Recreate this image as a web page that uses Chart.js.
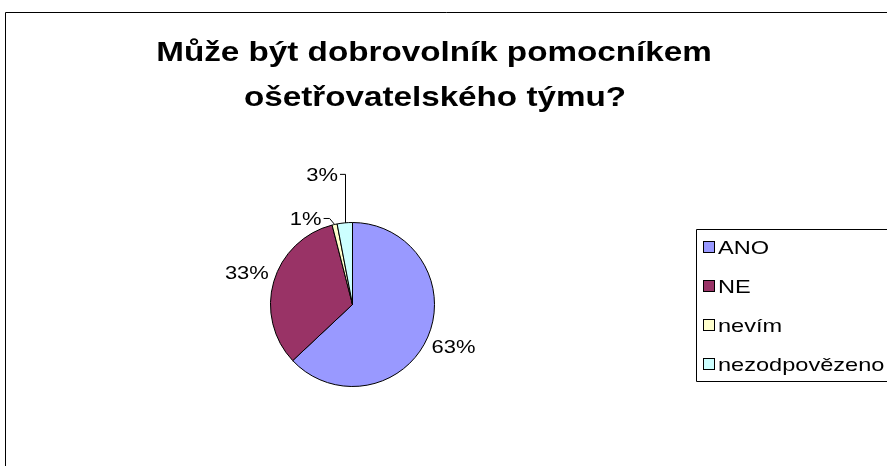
<!DOCTYPE html>
<html><head><meta charset="utf-8">
<script src="https://cdn.jsdelivr.net/npm/chart.js@4/dist/chart.umd.min.js"></script>
<style>html,body{margin:0;padding:0;background:#fff;}canvas{display:block;}</style>
</head><body>
<canvas id="c" width="887" height="466"></canvas>
<script>
const titleLines = ["Může být dobrovolník pomocníkem", "ošetřovatelského týmu?"];
const categories = ["ANO", "NE", "nevím", "nezodpovězeno"];
const values = [63, 33, 1, 3];
const valueLabels = ["63%", "33%", "1%", "3%"];
const colors = ["#9999FF", "#993366", "#FFFFCC", "#CCFFFF"];

const FONT = '"Liberation Sans", Arial, sans-serif';

function stretchedText(ctx, text, x, y, align, font, sx) {
  ctx.save();
  ctx.font = font;
  ctx.textBaseline = 'alphabetic';
  const w = ctx.measureText(text).width * sx;
  let left = x;
  if (align === 'center') left = x - w / 2;
  else if (align === 'right') left = x - w;
  ctx.translate(left, y);
  ctx.scale(sx, 1);
  ctx.textAlign = 'left';
  ctx.fillText(text, 0, 0);
  ctx.restore();
  return w;
}

const decor = {
  id: 'decor',
  beforeDraw(chart) {
    const ctx = chart.ctx;
    ctx.save();
    ctx.fillStyle = '#fff';
    ctx.fillRect(0, 0, chart.width, chart.height);
    ctx.strokeStyle = '#000';
    ctx.lineWidth = 1;
    ctx.beginPath();
    ctx.moveTo(5.5, chart.height);
    ctx.lineTo(5.5, 12.5);
    ctx.lineTo(chart.width, 12.5);
    ctx.stroke();
    ctx.restore();
  },
  afterDraw(chart) {
    const ctx = chart.ctx;
    ctx.save();
    ctx.fillStyle = '#000';
    // title
    stretchedText(ctx, titleLines[0], 434, 61, 'center', 'bold 27px ' + FONT, 1.23);
    stretchedText(ctx, titleLines[1], 435, 106, 'center', 'bold 27px ' + FONT, 1.23);

    // data labels
    const meta = chart.getDatasetMeta(0);
    const lf = '18px ' + FONT, lsx = 1.22;
    ctx.strokeStyle = '#000';
    ctx.lineWidth = 1;
    meta.data.forEach((arc, i) => {
      const mid = (arc.startAngle + arc.endAngle) / 2;
      const r = arc.outerRadius;
      const ex = arc.x + Math.cos(mid) * r, ey = arc.y + Math.sin(mid) * r;
      if (values[i] >= 10) {
        const d = r + 28;
        const cx = arc.x + Math.cos(mid) * d, cy = arc.y + Math.sin(mid) * d;
        stretchedText(ctx, valueLabels[i], cx, cy + 5, 'center', lf, lsx);
      } else if (i === 2) {
        const ky = ey - 6, kx = ex - 5;
        ctx.beginPath();
        ctx.moveTo(ex, ey);
        ctx.lineTo(kx, ky);
        ctx.lineTo(kx - 6, ky);
        ctx.stroke();
        stretchedText(ctx, valueLabels[i], kx - 8, ky + 7, 'right', lf, lsx);
      } else {
        const ky = ey - 49;
        ctx.beginPath();
        ctx.moveTo(Math.round(ex) + 0.5, ey);
        ctx.lineTo(Math.round(ex) + 0.5, ky + 0.5);
        ctx.lineTo(Math.round(ex) - 5, ky + 0.5);
        ctx.stroke();
        stretchedText(ctx, valueLabels[i], Math.round(ex) - 7, ky + 7, 'right', lf, lsx);
      }
    });

    // legend
    ctx.beginPath();
    ctx.moveTo(chart.width, 229.5);
    ctx.lineTo(696.5, 229.5);
    ctx.lineTo(696.5, 381.5);
    ctx.lineTo(chart.width, 381.5);
    ctx.stroke();
    categories.forEach((c, i) => {
      const yc = 248 + i * 39;
      ctx.fillStyle = colors[i];
      ctx.fillRect(703.5, yc - 6.5, 11, 11);
      ctx.strokeStyle = '#000';
      ctx.strokeRect(703.5, yc - 6.5, 11, 11);
      ctx.fillStyle = '#000';
      stretchedText(ctx, c, 718, yc + 6, 'left', '19px ' + FONT, 1.24);
    });
    ctx.restore();
  }
};

new Chart(document.getElementById('c'), {
  type: 'pie',
  data: {
    labels: categories,
    datasets: [{
      data: values,
      backgroundColor: colors,
      borderColor: '#000',
      borderWidth: 1
    }]
  },
  options: {
    responsive: false,
    animation: false,
    layout: { padding: { left: 270, right: 452, top: 222, bottom: 79 } },
    plugins: { legend: { display: false }, title: { display: false }, tooltip: { enabled: false } }
  },
  plugins: [decor]
});
</script>
</body></html>
